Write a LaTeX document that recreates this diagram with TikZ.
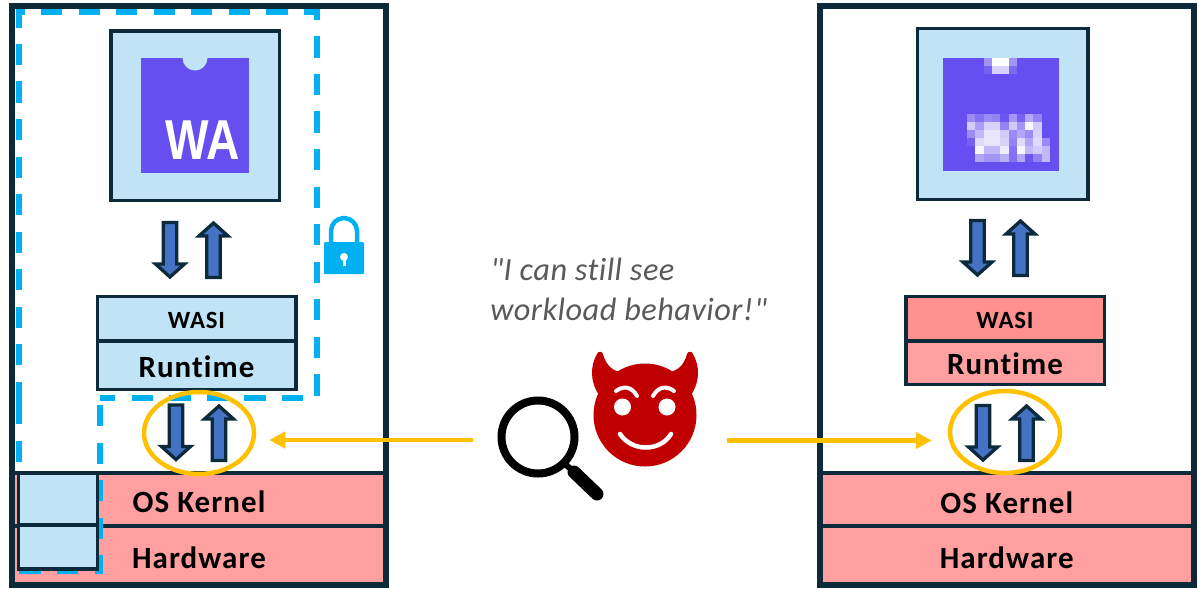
\documentclass[tikz,border=0pt]{standalone}
\usepackage{fontspec}
\setmainfont{Carlito}[Ligatures=NoCommon,LetterSpace=3.5]
\newfontfamily\quotefont{Carlito}[Ligatures=NoCommon,LetterSpace=1.5]
\newfontfamily\logofont{Liberation Sans}
\usetikzlibrary{arrows.meta,calc,shapes.geometric}
\definecolor{frameink}{HTML}{0C2A3A}
\definecolor{safeblue}{HTML}{C0E4F5}
\definecolor{hostred}{HTML}{FF9F9F}
\definecolor{wasired}{HTML}{FF9090}
\definecolor{wasmviolet}{HTML}{654FF0}
\definecolor{lockblue}{HTML}{00B0F0}
\definecolor{flowblue}{HTML}{4472C4}
\definecolor{watchgold}{HTML}{FFC000}
\definecolor{devilred}{HTML}{C00000}
\def\px{0.025cm}
\tikzset{
  framebox/.style={draw=frameink,line width=5.5*\px,minimum width=374*\px,minimum height=579*\px,inner sep=0pt},
  layerbox/.style={draw=frameink,line width=3.5*\px,inner sep=0pt,text=black,font=\fontsize{22}{26}\selectfont\bfseries},
  wasibox/.style={layerbox,minimum width=198.5*\px,minimum height=44.5*\px,text height=14pt,text depth=0pt,font=\fontsize{17.6}{20}\selectfont\bfseries},
  runtimebox/.style={layerbox,minimum width=198.5*\px,text height=17pt,text depth=0pt},
  hostbox/.style={layerbox,line width=4*\px,fill=hostred,minimum width=374*\px},
  appbox/.style={layerbox,fill=safeblue,minimum width=168.5*\px,minimum height=169.5*\px},
  safecell/.style={layerbox,fill=safeblue,minimum width=79*\px},
  trustline/.style={draw=lockblue,line width=5.5*\px,dash pattern=on 15.1pt off 11.6pt},
  watchring/.style={ellipse,draw=watchgold,line width=4.5*\px,minimum width=110*\px,minimum height=82*\px,inner sep=0pt},
  spyarrow/.style={draw=watchgold,line width=4.5*\px,-{Triangle[length=16*\px,width=16*\px]}},
  flowarrow/.pic={\draw[fill=flowblue,draw=frameink,line width=3.3*\px,miter limit=4]
    (-6.75,1.5) -- (6.75,1.5) -- (6.75,43) -- (14.5,43) -- (0,56) -- (-14.5,43) -- (-6.75,43) -- cycle;}
}
\begin{document}
\begin{tikzpicture}[x=0.025cm,y=-0.025cm]
  \useasboundingbox (0,0) rectangle (1201,588);
  \fill[white] (0,0) rectangle (1201,588);
  % left host
  \node[hostbox,minimum height=53*\px] (leftkernel) at (199,499.5) {};
  \node[hostbox,minimum height=59*\px] (lefthardware) at (199,555.5) {};
  \node[font=\fontsize{22}{26}\selectfont\bfseries] (leftkerneltext) at (199,502) {OS Kernel};
  \node[font=\fontsize{22}{26}\selectfont\bfseries] (lefthardwaretext) at (199,558) {Hardware};
  \draw[trustline] (19,403) -- (19,12) -- (317,12) -- (317,398) -- (100,398);
  \draw[trustline] (100,405) -- (100,571) -- (19,571);
  \draw[trustline] (19,403) -- (19,473);
  \node[safecell,minimum height=52*\px] (leftcellkernel) at (58,499) {};
  \node[safecell,minimum height=44*\px] (leftcellhardware) at (58,547) {};
  \node[appbox] (leftapp) at (195,115.5) {};
  \fill[wasmviolet] (141,58) rectangle (249,173);
  \fill[safeblue] (182.5,58) arc[start angle=180,end angle=0,radius=12.5] -- cycle;
  \node[text=white,font=\logofont\fontsize{40}{44}\selectfont\bfseries,xscale=0.82,transform shape,inner sep=0pt] (leftlogo) at (203,140) {WA};
  \pic (leftappdown) at (170,221) {flowarrow};
  \pic[rotate=180] (leftappup) at (213.5,279) {flowarrow};
  \node[wasibox,fill=safeblue] (leftwasi) at (196.5,318.75) {WASI};
  \node[runtimebox,fill=safeblue,minimum height=48.5*\px] (leftruntime) at (196.5,365.25) {Runtime};
  \pic (leftsysdown) at (176,403.5) {flowarrow};
  \pic[rotate=180] (leftsysup) at (219,462) {flowarrow};
  \node[watchring] (leftwatch) at (199,433) {};
  \node[framebox] (leftframe) at (199,295.5) {};
  % lock
  \draw[lockblue,line width=4.5*\px] (331,244) -- (331,231) arc[start angle=180,end angle=360,radius=13] -- (357,244);
  \fill[lockblue,rounded corners=1*\px] (324,242) rectangle (364,274);
  \fill[white] (344,257) circle[radius=4];
  \fill[white] (342.5,258) rectangle (345.5,266);
  % right host
  \node[hostbox,minimum height=53*\px] (rightkernel) at (1006.75,499.5) {};
  \node[hostbox,minimum height=59*\px] (righthardware) at (1006.75,555.5) {};
  \node[font=\fontsize{22}{26}\selectfont\bfseries] (rightkerneltext) at (1006.75,503) {OS Kernel};
  \node[font=\fontsize{22}{26}\selectfont\bfseries] (righthardwaretext) at (1006.75,558) {Hardware};
  \node[appbox,minimum width=170.5*\px,minimum height=171*\px] (rightapp) at (1002.5,114) {};
  \fill[wasmviolet] (943,58) rectangle (1059,171);
  \foreach \rowy/\shades in {58/{.4,1,1,.4},66/{.1,.75,.75,.15}}
    \foreach \sh [count=\cx from 2] in \shades
      \fill[white,opacity=\sh] (967+8.3*\cx,\rowy) rectangle ++(8.3,8);
  \foreach \rowy/\shades in {114/{.35,.2,.35,.3,.05,.4,.1,.5,.3,0},122/{.7,.45,.75,.75,.3,.7,.4,.95,.7,0},
      130/{.35,.6,.85,.85,.7,.35,.5,.35,.75,0},138/{.1,.8,.85,.85,.75,.3,.8,.5,.8,.35},
      146/{0,.95,.6,.6,.9,.2,.95,.6,.7,.6},154/{0,.5,.4,.4,.55,.2,.5,.05,.3,.6}}
    \foreach \sh [count=\cx from 0] in \shades
      \fill[white,opacity=\sh] (967+8.3*\cx,\rowy) rectangle ++(8.3,8);
  \pic (rightappdown) at (977.5,219) {flowarrow};
  \pic[rotate=180] (rightappup) at (1020.5,277) {flowarrow};
  \node[wasibox,fill=wasired] (rightwasi) at (1005,318.75) {WASI};
  \node[runtimebox,fill=hostred,minimum height=43.5*\px] (rightruntime) at (1005,362.75) {Runtime};
  \pic (rightsysdown) at (983,404) {flowarrow};
  \pic[rotate=180] (rightsysup) at (1026.5,462) {flowarrow};
  \node[watchring] (rightwatch) at (1005,432) {};
  \node[framebox] (rightframe) at (1006.75,295.5) {};
  % observer
  \node[anchor=west,align=left,inner sep=0pt,text=black!65,font=\quotefont\fontsize{23}{28.5}\selectfont\itshape] (quote) at (490,289) {"I can still see\\workload behavior!"};
  \fill[devilred] (645,415) circle[radius=51.5];
  \fill[devilred] (620,372) .. controls (610,370) and (605,362) .. (603,354) .. controls (602,351) and (598,351) .. (597,354)
    .. controls (590,366) and (590,382) .. (599,395) -- (625,395) -- cycle;
  \fill[devilred] (670,372) .. controls (680,370) and (685,362) .. (687,354) .. controls (688,351) and (692,351) .. (693,354)
    .. controls (700,366) and (700,382) .. (691,395) -- (665,395) -- cycle;
  \draw[white,line width=4*\px,line cap=round] (616,391) .. controls (624,385) and (632,387) .. (637,396);
  \draw[white,line width=4*\px,line cap=round] (674,391) .. controls (666,385) and (658,387) .. (653,396);
  \fill[white] (622.5,407) circle[radius=8.5] (667,407) circle[radius=8.5];
  \draw[white,line width=4.5*\px,line cap=round] (620,434) .. controls (632,452) and (660,452) .. (671,434);
  \draw[black,line width=8*\px] (538,437) circle[radius=36.5];
  \draw[black,line width=6*\px] (564,463) -- (574,472);
  \draw[black,line width=13*\px,line cap=round] (574,472) -- (597,494);
  \coordinate (spyleft) at (473,440);
  \coordinate (spyright) at (727,440.5);
  \draw[spyarrow,shorten >=13*\px] (spyleft) -- (spyleft -| leftwatch.east);
  \draw[spyarrow,shorten >=16*\px] (spyright) -- (spyright -| rightwatch.west);
\end{tikzpicture}
\end{document}
